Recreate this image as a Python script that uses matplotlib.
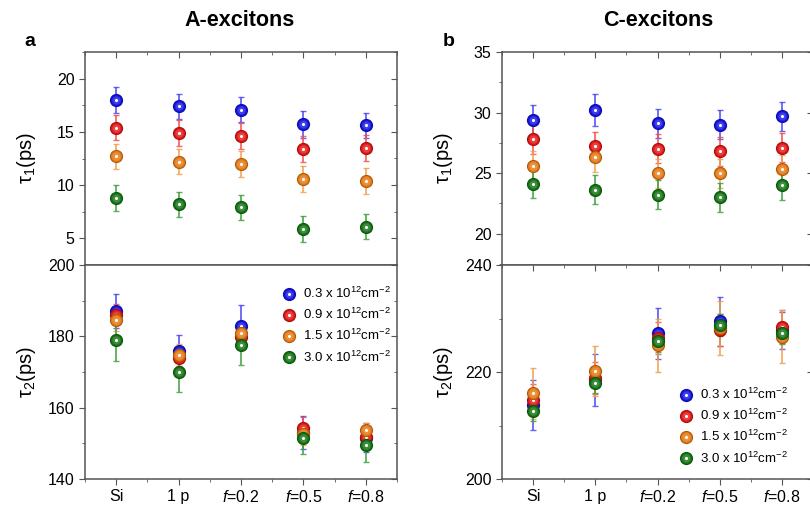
import numpy as np
import matplotlib
matplotlib.use("Agg")
import matplotlib.pyplot as plt
from matplotlib.lines import Line2D
from matplotlib.legend_handler import HandlerTuple
from matplotlib.ticker import MultipleLocator
from matplotlib.colors import to_rgb

plt.rcParams['font.family'] = ['Liberation Sans', 'DejaVu Sans']
plt.rcParams['mathtext.fontset'] = 'custom'
plt.rcParams['mathtext.rm'] = 'Liberation Sans'
plt.rcParams['mathtext.it'] = 'Liberation Sans:italic'

#_____________________________________________________________________________________
# data

samples = ["Si", "1 p", "$f$=0.2", "$f$=0.5", "$f$=0.8"]
densities = ["0.3", "0.9", "1.5", "3.0"]
colors = ["#1212e0", "#e01414", "#e47812", "#127212"]
err_colors = ["#4a4af0", "#f05050", "#f0a050", "#40a040"]

# A-excitons, tau1
A_t1 = [[18.0, 17.4, 17.1, 15.7, 15.6],
        [15.4, 14.9, 14.6, 13.4, 13.5],
        [12.7, 12.2, 12.0, 10.6, 10.4],
        [8.8, 8.2, 7.9, 5.9, 6.1]]
A_t1_err = [[1.2, 1.2, 1.2, 1.3, 1.2],
            [1.2, 1.2, 1.2, 1.2, 1.2],
            [1.2, 1.2, 1.2, 1.2, 1.2],
            [1.2, 1.2, 1.2, 1.2, 1.2]]

# A-excitons, tau2
A_t2 = [[187.1, 176.0, 183.0, 153.0, 151.6],
        [186.1, 173.9, 179.7, 154.3, 151.8],
        [184.5, 174.8, 181.0, 152.5, 153.7],
        [179.0, 170.1, 177.6, 151.4, 149.6]]
A_t2_err = [[4.7, 4.3, 5.7, 4.6, 4.0],
            [3.0, 3.0, 3.0, 3.0, 3.0],
            [3.0, 3.0, 3.0, 3.0, 2.0],
            [5.8, 5.8, 5.5, 4.4, 4.7]]

# C-excitons, tau1
C_t1 = [[29.4, 30.2, 29.1, 29.0, 29.7],
        [27.8, 27.2, 27.0, 26.8, 27.1],
        [25.6, 26.3, 25.0, 25.0, 25.3],
        [24.1, 23.6, 23.2, 23.0, 24.0]]
C_t1_err = [[1.2, 1.3, 1.2, 1.2, 1.2],
            [1.2, 1.2, 1.2, 1.2, 1.2],
            [1.2, 1.2, 1.2, 1.2, 1.2],
            [1.2, 1.2, 1.2, 1.2, 1.2]]

# C-excitons, tau2
C_t2 = [[213.8, 218.5, 227.2, 229.5, 227.8],
        [214.7, 218.9, 226.4, 227.9, 228.5],
        [216.0, 220.2, 225.0, 228.2, 226.6],
        [212.8, 218.0, 225.8, 228.8, 227.2]]
C_t2_err = [[4.7, 4.9, 4.8, 4.6, 3.5],
            [3.0, 3.0, 3.0, 3.0, 3.0],
            [4.8, 4.6, 5.0, 5.0, 5.0],
            [2.0, 2.0, 2.0, 2.0, 2.0]]

x = np.arange(len(samples))


def mix(c, f):
    c = np.array(to_rgb(c))
    if f < 0:
        return tuple(c * (1 + f))
    return tuple(c + (1 - c) * f)


def ball_parts(i):
    # stacked circles, darker rim to lighter centre, plus a white glint
    sizes = [9.5, 8.0, 6.5, 5.0]
    shades = [-0.25, 0.0, 0.1, 0.2]
    parts = [dict(ms=s, mfc=mix(colors[i], f), mec="none") for s, f in zip(sizes, shades)]
    parts.append(dict(ms=2.2, mfc="white", mec="none"))
    return parts


def ball_handle(i):
    return tuple(Line2D([], [], ls="none", marker="o", **p) for p in ball_parts(i))


def draw_series(ax, vals, errs):
    for i in range(len(vals)):
        ax.errorbar(x, vals[i], yerr=errs[i], fmt="none", ecolor=err_colors[i], elinewidth=1.3,
                    capsize=2.5, capthick=1.0, alpha=0.85, zorder=2 + i)
        for k, p in enumerate(ball_parts(i)):
            ax.plot(x, vals[i], ls="none", marker="o", zorder=10 + 6 * i + k, **p)


def style(ax, ylim, major, minor, top_ticks, bottom_labels):
    ax.set_xlim(-0.5, 4.5)
    ax.set_ylim(*ylim)
    ax.yaxis.set_major_locator(MultipleLocator(major))
    ax.yaxis.set_minor_locator(MultipleLocator(minor))
    ax.set_xticks(x)
    ax.xaxis.set_minor_locator(MultipleLocator(0.5))
    for s in ax.spines.values():
        s.set_color("#555555")
        s.set_linewidth(1.1)
    ax.tick_params(axis="y", which="both", direction="out", colors="#555555",
                   labelcolor="black", labelsize=11.5, right=False)
    ax.tick_params(axis="y", which="major", length=4)
    ax.tick_params(axis="y", which="minor", length=2.5)
    ax.tick_params(axis="x", which="both", direction="out", colors="#555555",
                   labelcolor="black", labelsize=11.5, top=False)
    ax.tick_params(axis="x", which="major", length=4)
    ax.tick_params(axis="x", which="minor", length=2)
    if bottom_labels:
        ax.set_xticklabels(samples)
    else:
        ax.tick_params(axis="x", which="both", bottom=False, labelbottom=False)
    # inward ticks on the top and right sides
    sec_y = ax.secondary_yaxis("right")
    sec_y.yaxis.set_major_locator(MultipleLocator(major))
    sec_y.yaxis.set_minor_locator(MultipleLocator(minor))
    sec_y.tick_params(which="both", direction="in", labelright=False, colors="#555555")
    sec_y.tick_params(which="major", length=4)
    sec_y.tick_params(which="minor", length=2.5)
    sec_y.spines["right"].set_visible(False)
    if top_ticks:
        sec_x = ax.secondary_xaxis("top")
        sec_x.set_xticks(x)
        sec_x.xaxis.set_minor_locator(MultipleLocator(0.5))
        sec_x.tick_params(which="both", direction="in", labeltop=False, colors="#555555")
        sec_x.tick_params(which="major", length=4)
        sec_x.tick_params(which="minor", length=2)
        sec_x.spines["top"].set_visible(False)


fig = plt.figure(figsize=(8.1, 5.07), dpi=100)

W, H = 810.0, 507.0
y_top = 1 - 52 / H
y_mid = 1 - 265 / H
y_bot = 1 - 479 / H

axA1 = fig.add_axes([85 / W, y_mid, 312 / W, y_top - y_mid])
axA2 = fig.add_axes([85 / W, y_bot, 312 / W, y_mid - y_bot])
axC1 = fig.add_axes([502 / W, y_mid, 311 / W, y_top - y_mid])
axC2 = fig.add_axes([502 / W, y_bot, 311 / W, y_mid - y_bot])

draw_series(axA1, A_t1, A_t1_err)
draw_series(axA2, A_t2, A_t2_err)
draw_series(axC1, C_t1, C_t1_err)
draw_series(axC2, C_t2, C_t2_err)

style(axA1, (2.5, 22.5), 5, 2.5, True, False)
style(axA2, (140, 200), 20, 10, False, True)
style(axC1, (17.4, 35), 5, 2.5, True, False)
style(axC2, (200, 240), 20, 10, True, True)

for ax in (axA1, axC1):
    ax.set_ylabel(r"$\mathregular{\tau_1}$(ps)", fontsize=14.5)
for ax in (axA2, axC2):
    ax.set_ylabel(r"$\mathregular{\tau_2}$(ps)", fontsize=14.5)
for ax in (axA1, axA2, axC1, axC2):
    ax.yaxis.set_label_coords(-0.15, 0.5)

fig.text(240 / W, 1 - 20 / H, "A-excitons", ha="center", va="center",
         fontsize=15.5, fontweight="bold")
fig.text(658 / W, 1 - 20 / H, "C-excitons", ha="center", va="center",
         fontsize=15.5, fontweight="bold")
fig.text(30 / W, 1 - 41 / H, "a", ha="center", va="center", fontsize=14, fontweight="bold")
fig.text(449 / W, 1 - 41 / H, "b", ha="center", va="center", fontsize=14, fontweight="bold")

labels = [d + r" x 10$^{12}$cm$^{-2}$" for d in densities]
handles = [ball_handle(i) for i in range(len(densities))]
for ax, anchor in ((axA2, (282 / W, 1 - 286 / H)), (axC2, (679 / W, 1 - 387 / H))):
    ax.legend(handles, labels, handler_map={tuple: HandlerTuple(ndivide=1)},
              loc="upper left", bbox_to_anchor=anchor, bbox_transform=fig.transFigure,
              frameon=False, fontsize=9.5, handlelength=1.0, handletextpad=0.6,
              labelspacing=0.45, borderpad=0, borderaxespad=0)

plt.savefig("out.png", dpi=100)
